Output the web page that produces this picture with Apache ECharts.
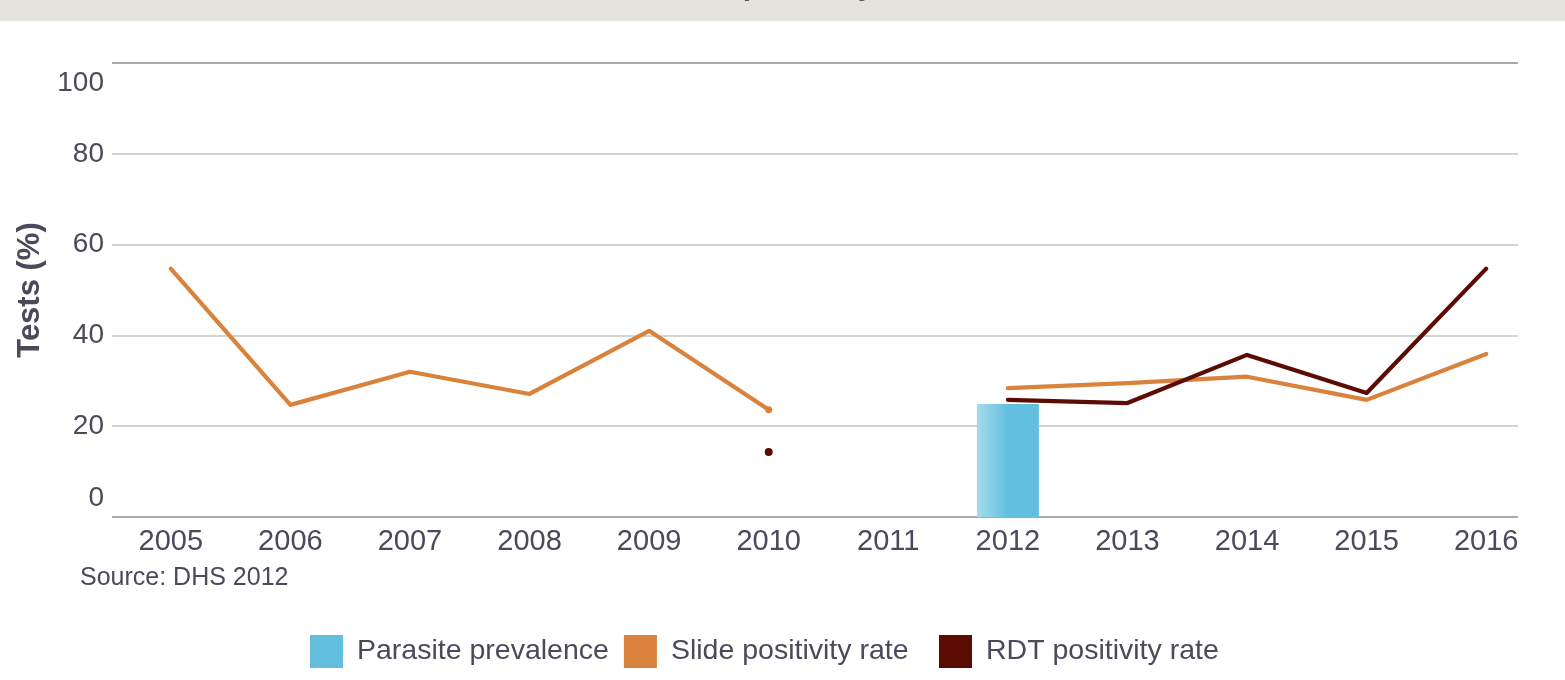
<!DOCTYPE html>
<html>
<head>
<meta charset="utf-8">
<script src="https://cdn.jsdelivr.net/npm/echarts@6/dist/echarts.min.js"></script>
<style>
html,body{margin:0;padding:0;background:#fff;}
#chart{width:1565px;height:680px;}
</style>
</head>
<body>
<div id="chart"></div>
<script>
const titleText = 'Test positivity';
const years = ['2005','2006','2007','2008','2009','2010','2011','2012','2013','2014','2015','2016'];
const yTicks = [0, 20, 40, 60, 80, 100];
const parasitePrevalence = [null, null, null, null, null, null, null, 24.9, null, null, null, null];
const slidePositivity = [54.7, 24.7, 32.0, 27.1, 41.0, 23.6, null, 28.4, 29.5, 30.9, 25.8, 35.9];
const rdtPositivity = [null, null, null, null, null, 14.3, null, 25.8, 25.1, 35.7, 27.3, 54.7];
const sourceText = 'Source: DHS 2012';
const seriesNames = ['Parasite prevalence', 'Slide positivity rate', 'RDT positivity rate'];

const textColor = '#4a4a5a';
const FONT = 'Liberation Sans, Arial, sans-serif';
const BLUE = '#62bfdf';

function symSizer(arr, isoSize, endSize) {
  return function (val, params) {
    const i = params.dataIndex;
    const prev = i > 0 ? arr[i - 1] : null;
    const next = i < arr.length - 1 ? arr[i + 1] : null;
    if (arr[i] == null) return 0;
    if (prev == null && next == null) return isoSize;
    if (next == null && i < arr.length - 1) return endSize;
    return 0;
  };
}

const legendBase = {
  top: 635,
  padding: 0,
  itemWidth: 33,
  itemHeight: 33,
  itemGap: 15,
  icon: 'rect',
  textStyle: { fontSize: 28.5, color: textColor, fontFamily: FONT, padding: [0, 0, 0, 9] }
};

const chart = echarts.init(document.getElementById('chart'));
chart.setOption({
  animation: false,
  backgroundColor: '#ffffff',
  textStyle: { fontFamily: FONT },
  graphic: [
    { type: 'rect', left: 0, top: 0, shape: { width: 1565, height: 21 }, style: { fill: '#e4e3de' }, z: 0 },
    { type: 'text', x: 675, y: -13, style: { text: titleText, fill: '#555547', font: 'bold 30px ' + FONT, textAlign: 'left', textVerticalAlign: 'middle' }, z: 1 },
    { type: 'text', x: 80, y: 578, style: { text: sourceText, fill: textColor, font: '25px ' + FONT, textAlign: 'left', textVerticalAlign: 'middle' } }
  ],
  legend: [
    Object.assign({}, legendBase, {
      left: 310,
      data: [
        { name: seriesNames[0], itemStyle: { color: BLUE } },
        { name: seriesNames[1] }
      ]
    }),
    Object.assign({}, legendBase, {
      left: 939,
      data: [{ name: seriesNames[2] }]
    })
  ],
  grid: [
    { left: 112, right: 47, top: 63, bottom: 163 },
    { left: 111, right: 19, top: 63, bottom: 163 }
  ],
  xAxis: [
    { type: 'category', gridIndex: 0, data: years, show: false },
    {
      type: 'category', gridIndex: 1, data: years, boundaryGap: true,
      axisLine: { show: false }, axisTick: { show: false },
      axisLabel: { fontSize: 29, color: textColor, margin: 10, fontFamily: FONT }
    }
  ],
  yAxis: [
    {
      type: 'value', gridIndex: 0, min: yTicks[0], max: yTicks[yTicks.length - 1], interval: 20,
      name: 'Tests (%)', nameLocation: 'middle', nameGap: 61, nameRotate: 90,
      nameTextStyle: { fontSize: 31, fontWeight: 'bold', color: textColor, fontFamily: FONT },
      axisLine: { show: false }, axisTick: { show: false },
      splitLine: { show: true, lineStyle: { color: ['#aaaaaa', '#d4d4d4', '#d4d4d4', '#d4d4d4', '#d4d4d4', '#aaaaaa'], width: 2 } },
      axisLabel: {
        fontSize: 28, color: textColor, margin: 8, fontFamily: FONT,
        formatter: function (v) {
          if (v === yTicks[yTicks.length - 1]) return '{t|' + v + '}';
          if (v === yTicks[0]) return '{b|' + v + '}';
          return String(v);
        },
        rich: {
          t: { fontSize: 28, color: textColor, fontFamily: FONT, padding: [40, 0, 0, 0] },
          b: { fontSize: 28, color: textColor, fontFamily: FONT, padding: [0, 0, 38, 0] }
        }
      }
    },
    { type: 'value', gridIndex: 1, min: 0, max: 100, interval: 20, show: false, splitLine: { show: false } }
  ],
  series: [
    {
      name: seriesNames[0], type: 'bar', xAxisIndex: 1, yAxisIndex: 1,
      data: parasitePrevalence, barWidth: 62,
      itemStyle: {
        color: new echarts.graphic.LinearGradient(0, 0, 1, 0, [
          { offset: 0, color: '#a6dbec' },
          { offset: 0.5, color: BLUE },
          { offset: 1, color: BLUE }
        ])
      }
    },
    {
      name: seriesNames[1], type: 'line', xAxisIndex: 1, yAxisIndex: 1,
      data: slidePositivity, connectNulls: false,
      symbol: 'circle', showSymbol: true, symbolSize: symSizer(slidePositivity, 8, 7),
      itemStyle: { color: '#d9823b' },
      lineStyle: { color: '#d9823b', width: 4.2, cap: 'round', join: 'round' }
    },
    {
      name: seriesNames[2], type: 'line', xAxisIndex: 1, yAxisIndex: 1,
      data: rdtPositivity, connectNulls: false,
      symbol: 'circle', showSymbol: true, symbolSize: symSizer(rdtPositivity, 8, 7),
      itemStyle: { color: '#5c0c02' },
      lineStyle: { color: '#5c0c02', width: 4.2, cap: 'round', join: 'round' }
    }
  ]
});
</script>
</body>
</html>
